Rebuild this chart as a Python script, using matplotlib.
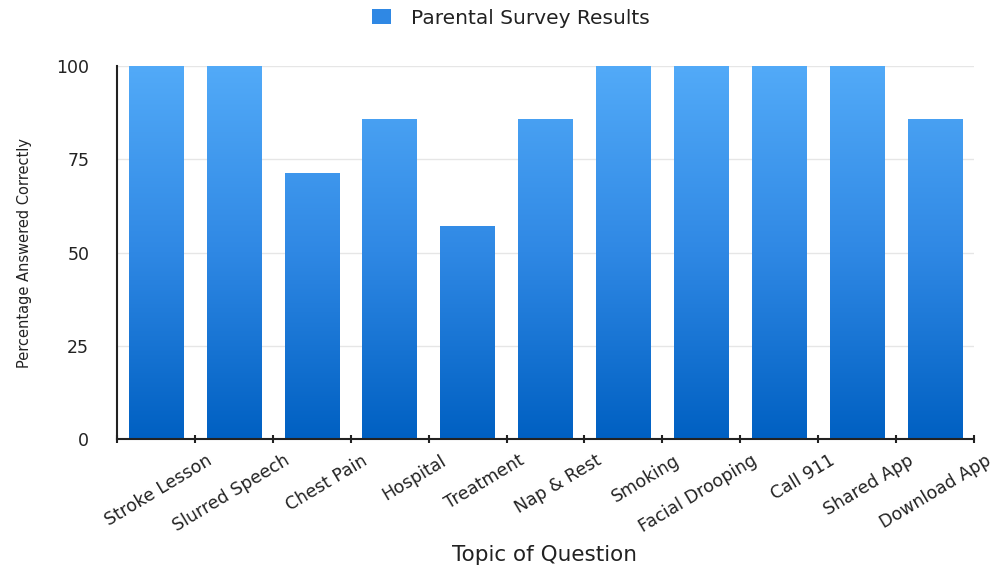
import numpy as np
import matplotlib
matplotlib.use("Agg")
import matplotlib.pyplot as plt
from matplotlib.colors import LinearSegmentedColormap
from matplotlib.patches import Patch
from matplotlib.transforms import ScaledTranslation

categories = ["Stroke Lesson", "Slurred Speech", "Chest Pain", "Hospital", "Treatment",
              "Nap & Rest", "Smoking", "Facial Drooping", "Call 911", "Shared App", "Download App"]
values = [100, 100, 71.4, 85.7, 57.1, 85.7, 100, 100, 100, 100, 85.7]
yticks = [0, 25, 50, 75, 100]
series_name = "Parental Survey Results"

plt.rcParams['font.family'] = ['DejaVu Sans']

fig = plt.figure(figsize=(9.95, 5.67), dpi=100)
ax = fig.add_axes([117/995, 1-439/567, (974-117)/995, (439-66)/567])

x = np.arange(len(categories))
bars = ax.bar(x, values, width=0.7, color='none', edgecolor='none', zorder=2)

cmap = LinearSegmentedColormap.from_list("g", ["#0060c2", "#2f88e4", "#52aaf8"])
grad = np.linspace(0, 1, 256).reshape(-1, 1)
for b in bars:
    x0 = b.get_x()
    w = b.get_width()
    im = ax.imshow(grad, cmap=cmap, origin='lower', aspect='auto',
                   extent=[x0, x0 + w, 0, 100], zorder=2)
    im.set_clip_path(b)

ax.set_xlim(-0.5, len(categories) - 0.5)
ax.set_ylim(0, 100)
ax.set_yticks(yticks)
ax.set_yticklabels([str(v) for v in yticks], fontsize=12.5, color='#222222')
ax.tick_params(axis='y', length=0, pad=20)
ax.yaxis.grid(True, color='#e6e6e6', linewidth=1, zorder=0)
ax.set_axisbelow(True)

ax.set_xticks(x)
ax.set_xticklabels(categories, rotation=31, ha='right', va='top', rotation_mode='anchor',
                   fontsize=12.5, color='#222222')
ax.tick_params(axis='x', which='major', length=0, pad=9)
offset = ScaledTranslation(50/100, 0, fig.dpi_scale_trans)
for lab in ax.get_xticklabels():
    lab.set_transform(lab.get_transform() + offset)
ax.set_xticks(np.arange(-0.5, len(categories)), minor=True)
ax.tick_params(axis='x', which='minor', length=6, width=1.5, direction='inout', color='#222222')

for s in ['top', 'right']:
    ax.spines[s].set_visible(False)
for s in ['left', 'bottom']:
    ax.spines[s].set_color('#222222')
    ax.spines[s].set_linewidth(1.5)

ax.set_xlabel("Topic of Question", fontsize=15.5, color='#222222')
ax.xaxis.set_label_coords((545-117)/(974-117), -(545-439)/(439-66))
ax.set_ylabel("Percentage Answered Correctly", fontsize=10.5, color='#222222')
ax.yaxis.set_label_coords(-(117-32)/(974-117), 0.5)

fig.legend(handles=[Patch(facecolor='#2f88e4', edgecolor='none', label=series_name)],
           loc='center', bbox_to_anchor=(511/995, 1-18/567), frameon=False,
           fontsize=14.5, handlelength=0.9, handleheight=0.7, handletextpad=1.0,
           labelcolor='#222222')

fig.savefig("out.png", dpi=100, facecolor='white')
